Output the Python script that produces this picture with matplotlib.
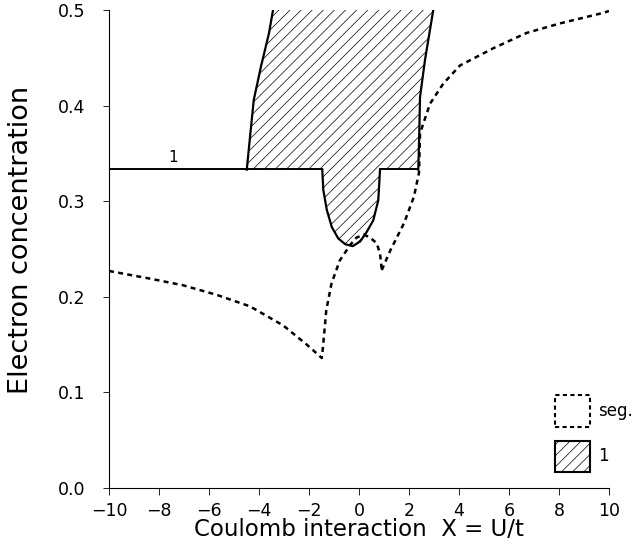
import numpy as np
import matplotlib
matplotlib.use('Agg')
import matplotlib.pyplot as plt
from matplotlib.patches import Patch

# phase "1" (hatched) boundaries
left_x = [-4.49, -4.35, -4.21, -3.93, -3.60, -3.44]
left_y = [0.333, 0.370, 0.406, 0.440, 0.476, 0.500]
right_x = [2.97, 2.64, 2.44, 2.41, 2.37]
right_y = [0.500, 0.448, 0.409, 0.371, 0.333]
pocket_x = [-1.47, -1.43, -1.29, -1.09, -0.83, -0.55, -0.25, 0.05, 0.31, 0.57, 0.77, 0.84]
pocket_y = [0.333, 0.312, 0.291, 0.273, 0.261, 0.255, 0.253, 0.258, 0.268, 0.280, 0.301, 0.333]
n_third = 1.0 / 3.0

# segregation boundary (dashed)
seg_left_x = [-10.0, -8.36, -7.03, -5.69, -4.36, -3.03, -2.09, -1.49,
              -1.44, -1.31, -1.10, -0.77, -0.36, -0.10, 0.20, 0.44, 0.71, 0.84, 0.91]
seg_left_y = [0.227, 0.219, 0.212, 0.202, 0.190, 0.170, 0.150, 0.136,
              0.148, 0.186, 0.214, 0.238, 0.254, 0.262, 0.265, 0.262, 0.256, 0.245, 0.228]
seg_right_x = [0.91, 1.26, 1.80, 2.20, 2.40, 2.44, 2.84, 3.37, 4.04, 5.37, 6.70, 8.04, 9.77, 10.0]
seg_right_y = [0.228, 0.249, 0.277, 0.305, 0.330, 0.371, 0.402, 0.423, 0.442, 0.460, 0.476, 0.486, 0.497, 0.499]

plt.rcParams['font.family'] = ['DejaVu Sans']
plt.rcParams['hatch.linewidth'] = 0.5

fig = plt.figure(figsize=(6.35, 5.56), dpi=100)
ax = fig.add_axes([0.1717, 0.1223, 0.7874, 0.8597])

# hatched region
poly_x = left_x + right_x + pocket_x[::-1] + [left_x[0]]
poly_y = left_y + right_y + pocket_y[::-1] + [left_y[0]]
ax.fill(poly_x, poly_y, facecolor='none', edgecolor='k', linewidth=0, hatch='///')

# solid boundaries
ax.plot(left_x, left_y, color='k', lw=1.6)
ax.plot(right_x, right_y, color='k', lw=1.6)
ax.plot(pocket_x, pocket_y, color='k', lw=1.6)
ax.plot([-10, pocket_x[0]], [n_third, n_third], color='k', lw=1.4)
ax.plot([pocket_x[-1], right_x[-1]], [n_third, n_third], color='k', lw=1.4)

# dashed segregation curves
ax.plot(seg_left_x, seg_left_y, color='k', lw=1.8, linestyle=(0, (2.0, 1.7)))
ax.plot(seg_right_x, seg_right_y, color='k', lw=1.8, linestyle=(0, (2.0, 1.7)))

ax.text(-7.45, 0.338, '1', fontsize=11, ha='center', va='bottom')

ax.set_xlim(-10, 10)
ax.set_ylim(0, 0.5)
ax.set_xticks(np.arange(-10, 11, 2))
ax.set_yticks(np.arange(0, 0.51, 0.1))
ax.set_yticklabels(['0.0', '0.1', '0.2', '0.3', '0.4', '0.5'])
ax.spines['top'].set_visible(False)
ax.spines['right'].set_visible(False)
ax.tick_params(axis='x', direction='out', length=5, width=0.6, labelsize=12.5, pad=5)
ax.tick_params(axis='y', direction='out', length=4, width=0.6, labelsize=12.5, pad=13)
ax.set_xlabel('Coulomb interaction  X = U/t', fontsize=16.5)
ax.set_ylabel('Electron concentration', fontsize=19.5)
ax.xaxis.set_label_coords(0.5, -0.063)
ax.yaxis.set_label_coords(-0.15, 0.52)

handles = [Patch(facecolor='none', edgecolor='k', linestyle=(0, (2, 1.6)), linewidth=1.5, label='seg.'),
           Patch(facecolor='none', edgecolor='k', linewidth=1.5, hatch='///', label='1')]
ax.legend(handles=handles, loc='lower left', bbox_to_anchor=(0.892, 0.033), frameon=False,
          borderpad=0, borderaxespad=0, fontsize=12, handlelength=2.1, handleheight=2.55,
          labelspacing=0.8, handletextpad=0.5)

plt.savefig('out.png', dpi=100)
